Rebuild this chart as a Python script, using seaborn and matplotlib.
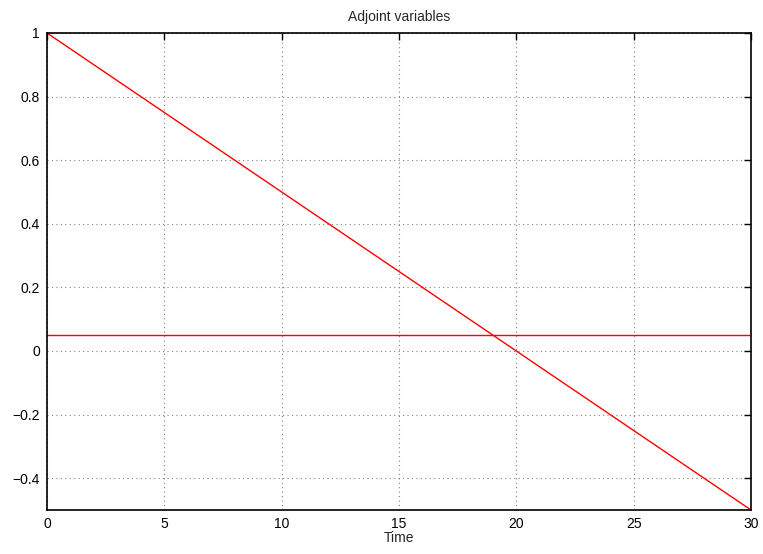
import matplotlib
matplotlib.use("Agg")
import matplotlib.pyplot as plt
import seaborn as sns
import pandas as pd

# Adjoint variable trajectories over time
time = [0, 30]
lambda_1 = [1.0, -0.5]
lambda_2 = [0.05, 0.05]

x_ticks = [0, 5, 10, 15, 20, 25, 30]
y_ticks = [-0.4, -0.2, 0, 0.2, 0.4, 0.6, 0.8, 1]
y_tick_labels = ["\u22120.4", "\u22120.2", "0", "0.2", "0.4", "0.6", "0.8", "1"]

sns.set_style("white")
plt.rcParams["font.family"] = ["Liberation Sans", "DejaVu Sans"]
plt.rcParams["font.size"] = 10

df = pd.DataFrame({
    "Time": time + time,
    "value": lambda_1 + lambda_2,
    "series": ["lambda1"] * 2 + ["lambda2"] * 2,
})

fig = plt.figure(figsize=(7.63, 5.54), dpi=100)
ax = fig.add_axes([47 / 763, 1 - 510 / 554, (751 - 47) / 763, (510 - 33) / 554])

sns.lineplot(data=df, x="Time", y="value", units="series", estimator=None,
             color="#ff0000", linewidth=1.0, ax=ax, legend=False)

ax.set_xlim(0, 30)
ax.set_ylim(-0.5, 1)
ax.set_xticks(x_ticks)
ax.set_yticks(y_ticks)
ax.set_yticklabels(y_tick_labels)
ax.grid(True, linestyle=(0, (1, 3)), color="#808080", linewidth=0.8)
ax.tick_params(direction="in", length=5, width=1, top=True, right=True,
               labelsize=10, colors="black", pad=5)
for s in ax.spines.values():
    s.set_linewidth(1.2)
    s.set_color("black")
ax.set_xlabel("Time", fontsize=10, labelpad=0)
ax.set_ylabel("")
ax.set_title("Adjoint variables", fontsize=10, pad=9)

fig.savefig("out.png", dpi=100)
